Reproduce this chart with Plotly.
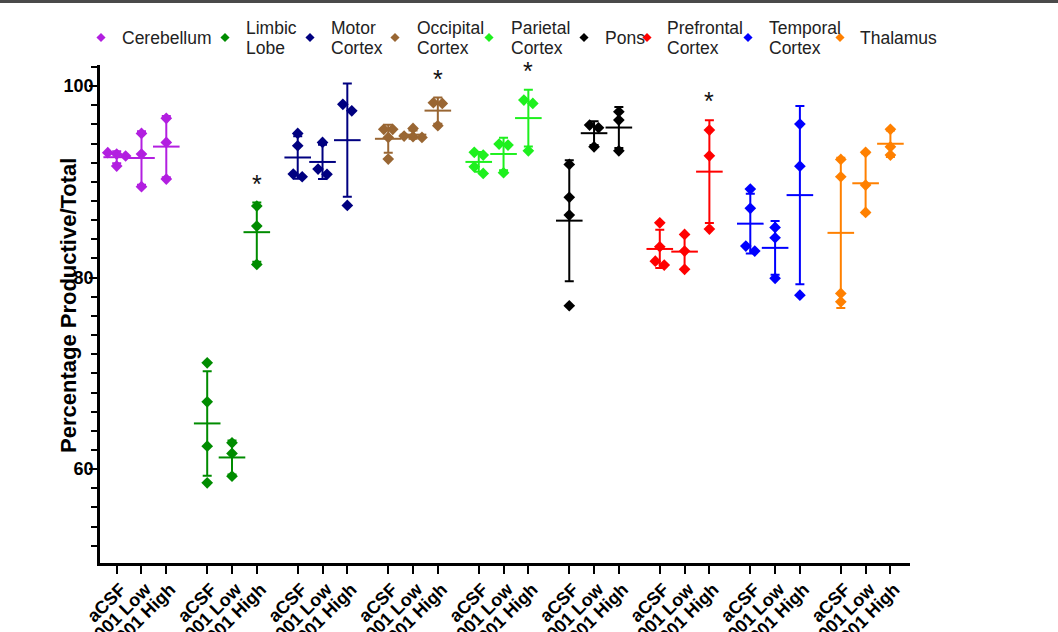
import plotly.graph_objects as go
import numpy as np

# ---------------- data ----------------
regions = ["Cerebellum", "Limbic<br>Lobe", "Motor<br>Cortex", "Occipital<br>Cortex",
           "Parietal<br>Cortex", "Pons", "Prefrontal<br>Cortex", "Temporal<br>Cortex", "Thalamus"]
conditions = ["aCSF", "AD-001 Low", "AD-001 High"]
colors = ["#B21FE0", "#008C00", "#000080", "#996633", "#1EF01E",
          "#000000", "#FF0000", "#0000FF", "#FF8000"]

cerebellum = [[93.04, 92.90, 92.70, 91.65], [95.06, 92.90, 89.50], [96.63, 94.12, 90.29]]
limbic     = [[71.10, 67.03, 62.40, 58.57], [62.75, 61.64, 59.27], [87.47, 85.38, 81.38]]
motor      = [[95.06, 93.77, 90.53, 90.81], [94.12, 90.78, 91.33], [97.42, 98.09, 87.54]]
occipital  = [[95.48, 95.48, 94.64, 92.38], [95.58, 94.78, 94.71, 94.64], [98.19, 98.26, 95.86]]
parietal   = [[93.08, 92.79, 91.57, 90.88], [93.84, 93.94, 90.95], [98.54, 98.19, 93.24]]
pons       = [[91.82, 88.38, 86.53, 77.06], [95.93, 95.65, 93.66], [97.32, 96.45, 93.24]]
prefrontal = [[85.72, 83.22, 81.72, 81.31], [84.51, 82.77, 80.86], [95.40, 92.72, 85.07]]
temporal   = [[89.24, 87.23, 83.29, 82.77], [85.24, 84.16, 79.92], [96.03, 91.64, 78.17]]
thalamus   = [[92.34, 90.53, 78.35, 77.47], [93.08, 89.66, 86.81], [95.48, 93.66, 92.79]]
all_values = [cerebellum, limbic, motor, occipital, parietal, pons, prefrontal, temporal, thalamus]

# significance markers: (region index, condition index)
significant = [(1, 2), (3, 2), (4, 2), (6, 2)]

y_ticks = [60, 80, 100]
y_title = "Percentage Productive/Total"

# ---------------- layout (pixel geometry) ----------------
W, H = 1058, 632
PLOT_L, PLOT_R, PLOT_T, PLOT_B = 100, 910, 65, 563
Y_RANGE = [50.2, 102.2]
X_RANGE = [-0.673, 31.99]
GROUP_STEP = 3.65
PX_PER_Y = (PLOT_B - PLOT_T) / (Y_RANGE[1] - Y_RANGE[0])
SPREAD = 0.36       # horizontal spread of overlapping points (x units)
CLUSTER_PX = 7.0    # points closer than this (px) are spread sideways

# legend placement (pixels): marker x, text x
legend_marker_x = [101, 225, 310, 395, 489, 584, 647, 748, 840]
legend_text_x = [120, 244, 329, 415, 509, 603, 665, 767, 858]
LEGEND_Y = 37.5
LEGEND_LINE_GAP = 20


def x_pos(g, c):
    return g * GROUP_STEP + c


def spread_offsets(vals):
    order = np.argsort(vals)[::-1]
    clusters = []
    for idx in order:
        if clusters and abs(vals[clusters[-1][-1]] - vals[idx]) * PX_PER_Y < CLUSTER_PX:
            clusters[-1].append(idx)
        else:
            clusters.append([idx])
    offs = np.zeros(len(vals))
    for cl in clusters:
        n = len(cl)
        for k, idx in enumerate(cl):
            offs[idx] = (k - (n - 1) / 2) * SPREAD
    return offs


fig = go.Figure()

for g, (name, col, groups) in enumerate(zip(regions, colors, all_values)):
    for c, vals in enumerate(groups):
        vals = np.array(vals, dtype=float)
        xc = x_pos(g, c)
        offs = spread_offsets(vals)
        fig.add_trace(go.Scatter(
            x=xc + offs, y=vals, mode="markers",
            marker=dict(symbol="diamond", size=9, color=col),
            showlegend=False, hoverinfo="skip"))
        m = vals.mean()
        sd = vals.std(ddof=1)
        fig.add_trace(go.Scatter(
            x=[xc], y=[m], mode="markers",
            marker=dict(symbol="line-ew", size=19, line=dict(color=col, width=2)),
            error_y=dict(type="data", array=[sd], visible=True, color=col,
                         thickness=2, width=4.5),
            showlegend=False, hoverinfo="skip"))

# legend drawn on a pixel-coordinate overlay axis
fig.add_trace(go.Scatter(
    x=legend_marker_x, y=[LEGEND_Y] * len(regions), xaxis="x2", yaxis="y2",
    mode="markers", marker=dict(symbol="diamond", size=7, color=colors),
    showlegend=False, hoverinfo="skip"))

annotations = []
for name, tx in zip(regions, legend_text_x):
    lines = name.split("<br>")
    n = len(lines)
    for k, line in enumerate(lines):
        ty = LEGEND_Y + (k - (n - 1) / 2) * LEGEND_LINE_GAP
        annotations.append(dict(x=tx, y=ty, xref="x2", yref="y2", text=line,
                                showarrow=False, xanchor="left", yanchor="middle",
                                font=dict(size=17.5, family="Liberation Sans", color="#222")))

for g, c in significant:
    vals = np.array(all_values[g][c], dtype=float)
    top = max(vals.mean() + vals.std(ddof=1), vals.max())
    annotations.append(dict(x=x_pos(g, c), y=top, xref="x", yref="y", text="*",
                            showarrow=False, yanchor="bottom", yshift=3,
                            font=dict(size=25, color="#111", family="Liberation Sans")))

# y-axis title
annotations.append(dict(x=68, y=(PLOT_T + PLOT_B) / 2 - 8, xref="x2", yref="y2",
                        text=y_title, textangle=-90, showarrow=False,
                        xanchor="center", yanchor="middle",
                        font=dict(size=22, family="Liberation Sans", color="black",
                                  weight="bold")))

tickvals = [x_pos(g, c) for g in range(len(regions)) for c in range(len(conditions))]
ticktext = [conditions[c] for g in range(len(regions)) for c in range(len(conditions))]

fig.update_layout(
    width=W, height=H,
    margin=dict(l=0, r=0, t=0, b=0),
    paper_bgcolor="white", plot_bgcolor="rgba(0,0,0,0)",
    font=dict(family="Liberation Sans", color="#111"),
    showlegend=False,
    annotations=annotations,
    shapes=[dict(type="rect", xref="x2", yref="y2", x0=0, x1=W, y0=0, y1=3,
                 fillcolor="#4a4a4a", line=dict(width=0), layer="above")],
    xaxis=dict(domain=[PLOT_L / W, PLOT_R / W], anchor="y",
               range=X_RANGE, tickvals=tickvals, ticktext=ticktext,
               tickangle=-45, ticks="outside", ticklen=8, tickwidth=2, tickcolor="black",
               showline=True, linecolor="black", linewidth=2.5, showgrid=False,
               zeroline=False, automargin=False, ticklabelshift=4, ticklabelstandoff=-2,
               tickfont=dict(size=18, family="Liberation Sans", color="black", weight="bold")),
    yaxis=dict(domain=[(H - PLOT_B) / H, (H - PLOT_T) / H], anchor="x",
               range=Y_RANGE, tickvals=y_ticks, ticks="outside", ticklen=8,
               tickwidth=2, tickcolor="black", showline=True, linecolor="black",
               linewidth=2.5, showgrid=False, zeroline=False, automargin=False,
               ticklabelstandoff=-8,
               minor=dict(dtick=2, tick0=50, ticks="outside", ticklen=6, tickwidth=2,
                          tickcolor="black", showgrid=False),
               tickfont=dict(size=18, family="Liberation Sans", color="black", weight="bold")),
    xaxis2=dict(domain=[0, 1], anchor="y2", range=[0, W], visible=False, fixedrange=True),
    yaxis2=dict(domain=[0, 1], anchor="x2", range=[H, 0], visible=False, fixedrange=True),
)

fig.write_html("out.html")
